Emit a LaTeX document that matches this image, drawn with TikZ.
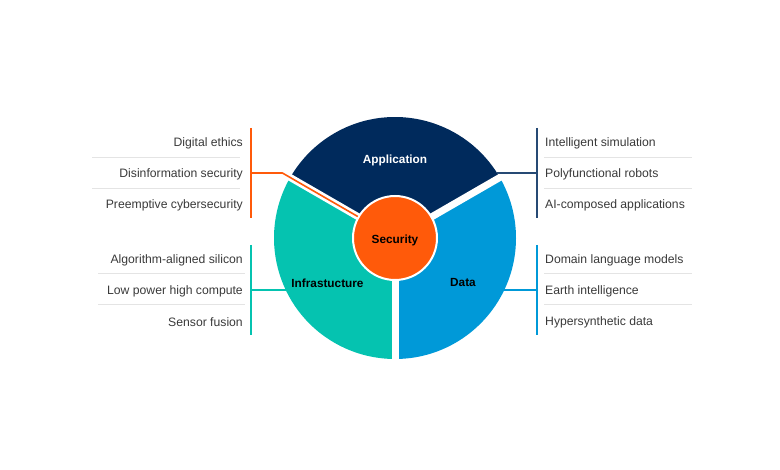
\documentclass[tikz,border=0pt]{standalone}
\usepackage{fontspec}
\setmainfont{Liberation Sans}
\definecolor{navy}{HTML}{002A5C}
\definecolor{teal}{HTML}{05C3B0}
\definecolor{sky}{HTML}{0099D8}
\definecolor{orng}{HTML}{FF5A0A}
\definecolor{txt}{HTML}{3A3A3A}
\definecolor{sep}{HTML}{E4E4E4}
\tikzset{
  item/.style={font=\fontsize{12.2}{14}\selectfont, text=txt, inner sep=0pt},
  litem/.style={item, anchor=east},
  ritem/.style={item, anchor=west},
  seg/.style={font=\fontsize{11.8}{13}\selectfont\bfseries, inner sep=0pt},
  sepline/.style={draw=sep, line width=0.9pt},
  leader/.style={line width=1.8pt},
  gap/.style={draw=white, line width=7pt},
}
\begin{document}
\begin{tikzpicture}[x=1pt,y=-1pt]
\useasboundingbox (0,0) rectangle (780,470);
\fill[white] (0,0) rectangle (780,470);
\coordinate (c) at (395,238);
% sectors (angles negated because the y axis points down)
\fill[navy] (c) -- ++(-30:121) arc[start angle=-30,end angle=-150,radius=121] -- cycle;
\fill[teal] (c) -- ++(-150:121) arc[start angle=-150,end angle=-270,radius=121] -- cycle;
\fill[sky] (c) -- ++(-270:121) arc[start angle=-270,end angle=-390,radius=121] -- cycle;
% gaps
\draw[gap] (c) -- ++(-30:125);
\draw[gap] (c) -- ++(-150:125);
\draw[gap] (c) -- ++(-270:125);
% security
\node[circle, fill=orng, draw=white, line width=2pt, minimum size=84pt, inner sep=0pt] (sec) at (c) {};
\node[seg, text=black] (sect) at (395,240) {Security};
\node[seg, text=white] (app) at (395,160.5) {Application};
\node[seg, text=black] (infra) at (327.5,283) {Infrastucture};
\node[seg, text=black] (data) at (463,283) {Data};
% leader coordinates
\coordinate (lt1) at (251,128);
\coordinate (lt2) at (251,218);
\coordinate (ltm) at (251,173);
\coordinate (ltk) at (282.4,173);
\coordinate (rt1) at (537,128);
\coordinate (rt2) at (537,218);
\coordinate (rtm) at (537,173);
\coordinate (rtk) at (496.5,173);
\coordinate (lb1) at (251,245);
\coordinate (lb2) at (251,335);
\coordinate (lbm) at (251,290);
\coordinate (lbk) at (286,290);
\coordinate (rb1) at (537,245);
\coordinate (rb2) at (537,335);
\coordinate (rbm) at (537,290);
\coordinate (rbk) at (504,290);
% leaders
\draw[leader, draw=orng] (lt1) -- (lt2);
\draw[leader, draw=orng, line width=1.6pt] (ltm) -- (ltk) -- (sec.150);
\draw[leader, draw=navy!85] (rt1) -- (rt2);
\draw[leader, draw=navy!85, line width=1.6pt] (rtk) -- (rtm);
\draw[leader, draw=teal] (lb1) -- (lb2);
\draw[leader, draw=teal, line width=1.6pt] (lbk) -- (lbm);
\draw[leader, draw=sky] (rb1) -- (rb2);
\draw[leader, draw=sky, line width=1.6pt] (rbk) -- (rbm);
% separators
\coordinate (s1a) at (92,157); \coordinate (s1b) at (240,157);
\coordinate (s2a) at (92,188); \coordinate (s2b) at (240,188);
\coordinate (s3a) at (98,273.5); \coordinate (s3b) at (245,273.5);
\coordinate (s4a) at (98,304); \coordinate (s4b) at (245,304);
\coordinate (s5a) at (544,157); \coordinate (s5b) at (692,157);
\coordinate (s6a) at (544,188); \coordinate (s6b) at (692,188);
\coordinate (s7a) at (544,273.5); \coordinate (s7b) at (692,273.5);
\coordinate (s8a) at (544,304); \coordinate (s8b) at (692,304);
\foreach \a/\b in {s1a/s1b,s2a/s2b,s3a/s3b,s4a/s4b,s5a/s5b,s6a/s6b,s7a/s7b,s8a/s8b}
  \draw[sepline] (\a) -- (\b);
% labels
\node[litem] (l1) at (243,143) {Digital ethics};
\node[litem] (l2) at (243,174) {Disinformation security};
\node[litem] (l3) at (243,205) {Preemptive cybersecurity};
\node[litem] (l4) at (243,260) {Algorithm-aligned silicon};
\node[litem] (l5) at (243,291) {Low power high compute};
\node[litem] (l6) at (243,322) {Sensor fusion};
\node[ritem] (r1) at (545,143) {Intelligent simulation};
\node[ritem] (r2) at (545,174) {Polyfunctional robots};
\node[ritem] (r3) at (545,205) {AI-composed applications};
\node[ritem] (r4) at (545,260) {Domain language models};
\node[ritem] (r5) at (545,291) {Earth intelligence};
\node[ritem] (r6) at (545,322) {Hypersynthetic data};
\end{tikzpicture}
\end{document}
